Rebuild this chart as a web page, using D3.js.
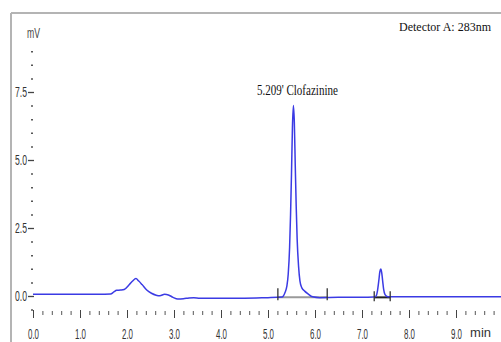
<!DOCTYPE html>
<html><head><meta charset="utf-8">
<script src="https://cdn.jsdelivr.net/npm/d3@7"></script>
<style>html,body{margin:0;padding:0;background:#fff;overflow:hidden}</style>
</head><body><svg id="c" width="501" height="342"></svg>
<script>
// Chromatogram data (time in min, signal in mV)
const time = [0.00, 0.80, 1.40, 1.65, 1.72, 1.78, 1.86, 1.94, 2.05, 2.12, 2.19, 2.25, 2.32, 2.42, 2.52, 2.62, 2.70, 2.80, 2.88, 2.98, 3.08, 3.20, 3.32, 3.42, 3.55, 4.00, 4.50, 5.00, 5.20, 5.30, 5.36, 5.40, 5.43, 5.46, 5.48, 5.50, 5.52, 5.54, 5.56, 5.58, 5.60, 5.62, 5.65, 5.68, 5.72, 5.78, 5.85, 5.95, 6.10, 6.50, 7.00, 7.25, 7.30, 7.33, 7.36, 7.38, 7.40, 7.42, 7.44, 7.46, 7.49, 7.55, 8.00, 9.00, 10.0];
const signal = [0.06, 0.06, 0.06, 0.07, 0.15, 0.21, 0.22, 0.24, 0.42, 0.55, 0.64, 0.55, 0.42, 0.22, 0.10, 0.03, 0.01, 0.06, 0.04, -0.05, -0.11, -0.10, -0.07, -0.06, -0.08, -0.08, -0.08, -0.06, -0.05, -0.04, 0.12, 0.35, 0.80, 1.80, 3.00, 4.50, 6.20, 7.00, 6.40, 4.80, 3.30, 2.10, 1.10, 0.55, 0.30, 0.18, 0.08, -0.03, -0.06, -0.05, -0.05, -0.04, 0.00, 0.20, 0.60, 0.90, 0.99, 0.85, 0.55, 0.25, 0.05, -0.03, -0.03, -0.03, -0.03];

const xMajor = [0, 1, 2, 3, 4, 5, 6, 7, 8, 9];
const xTickLabels = ["0.0", "1.0", "2.0", "3.0", "4.0", "5.0", "6.0", "7.0", "8.0", "9.0"];
const yMajor = [0, 2.5, 5, 7.5];
const yTickLabels = ["0.0", "2.5", "5.0", "7.5"];
const xUnit = "min";
const yUnit = "mV";
const detectorText = "Detector A: 283nm";
const peakTime = 5.54, peakValue = 7.0, peakText = "5.209' Clofazinine";
// integration baselines
const intStart = [5.21, 7.26];
const intEnd = [6.26, 7.60];
const intLevel = [-0.05, -0.05];

const svg = d3.select("#c");
const x = d3.scaleLinear().domain([0, 10]).range([33, 503]);
const y = d3.scaleLinear().domain([0, 7.5]).range([296, 92]);
const narrow = "'Liberation Sans Narrow','Arial Narrow','Liberation Sans',Arial,sans-serif";
const serif = "'Liberation Serif','Times New Roman',serif";

// frame
svg.append("line").attr("x1", 11).attr("x2", 501).attr("y1", 13).attr("y2", 13).attr("stroke", "#b4b4b4").attr("stroke-width", 2);
svg.append("line").attr("x1", 11).attr("x2", 11).attr("y1", 13).attr("y2", 342).attr("stroke", "#b4b4b4").attr("stroke-width", 2);

// Y axis major
const yAx = svg.append("g").attr("transform", "translate(34,0)")
  .call(d3.axisLeft(y).tickValues(yMajor).tickSize(6).tickPadding(1)
    .tickFormat((d, i) => yTickLabels[i]));
yAx.select(".domain").remove();
yAx.selectAll("line").attr("stroke", "#444").attr("stroke-width", 1.3);
yAx.selectAll("text").attr("font-family", narrow).attr("font-size", 15).attr("fill", "#333")
  .attr("textLength", 12).attr("lengthAdjust", "spacingAndGlyphs");
// Y minor
const yMinorVals = d3.range(-0.5, 9.01, 0.5).filter(v => !yMajor.some(m => Math.abs(m - v) < 1e-6));
const yMin = svg.append("g").attr("transform", "translate(33,0)")
  .call(d3.axisLeft(y).tickValues(yMinorVals).tickSize(2).tickFormat(""));
yMin.select(".domain").remove();
yMin.selectAll("line").attr("stroke", "#555").attr("stroke-width", 1.5);

// X axis major
const xAx = svg.append("g").attr("transform", "translate(0,310)")
  .call(d3.axisBottom(x).tickValues(xMajor).tickSize(8).tickPadding(10)
    .tickFormat((d, i) => xTickLabels[i]));
xAx.select(".domain").remove();
xAx.selectAll("line").attr("stroke", "#444").attr("stroke-width", 1);
xAx.selectAll("text").attr("font-family", narrow).attr("font-size", 15).attr("fill", "#333")
  .attr("textLength", 11).attr("lengthAdjust", "spacingAndGlyphs");
// X minor
const xMinorVals = d3.range(0.2, 9.99, 0.2).filter(v => !xMajor.some(m => Math.abs(m - v) < 1e-6));
const xMin = svg.append("g").attr("transform", "translate(0,311)")
  .call(d3.axisBottom(x).tickValues(xMinorVals).tickSize(4).tickFormat(""));
xMin.select(".domain").remove();
xMin.selectAll("line").attr("stroke", "#555").attr("stroke-width", 1);

// unit labels
svg.append("text").attr("x", 491).attr("y", 337).attr("text-anchor", "end").text(xUnit)
  .attr("font-family", narrow).attr("font-size", 13).attr("fill", "#333");
svg.append("text").attr("x", 27).attr("y", 38).text(yUnit)
  .attr("font-family", narrow).attr("font-size", 15).attr("fill", "#444")
  .attr("textLength", 13).attr("lengthAdjust", "spacingAndGlyphs");

// detector text
svg.append("text").attr("x", 491).attr("y", 31).attr("text-anchor", "end").text(detectorText)
  .attr("font-family", serif).attr("font-size", 12).attr("fill", "#111");

// integration baselines
intStart.forEach((s, i) => {
  const isFirst = i === 0;
  svg.append("line").attr("x1", x(s)).attr("x2", x(intEnd[i]))
    .attr("y1", y(intLevel[i])).attr("y2", y(intLevel[i]))
    .attr("stroke", isFirst ? "#9a9a9a" : "#222").attr("stroke-width", 2);
});

// signal line
const pts = time.map((t, i) => [t, signal[i]]);
svg.append("path").datum(pts)
  .attr("d", d3.line().x(d => x(d[0])).y(d => y(d[1])).curve(d3.curveMonotoneX))
  .attr("fill", "none").attr("stroke", "#3b3be4").attr("stroke-width", 1.5).attr("stroke-linejoin", "round");

// integration markers
intStart.forEach((s, i) => {
  [s, intEnd[i]].forEach(t => {
    svg.append("line").attr("x1", x(t)).attr("x2", x(t))
      .attr("y1", y(intLevel[i]) - (i === 0 ? 9 : 6)).attr("y2", y(intLevel[i]) + (i === 0 ? 3 : 4))
      .attr("stroke", "#333").attr("stroke-width", 1.3);
  });
});

// peak label
svg.append("text").attr("x", x(peakTime) + 4).attr("y", 95).attr("text-anchor", "middle").text(peakText)
  .attr("font-family", serif).attr("font-size", 14).attr("fill", "#111")
  .attr("textLength", 81).attr("lengthAdjust", "spacingAndGlyphs");
</script></body></html>
